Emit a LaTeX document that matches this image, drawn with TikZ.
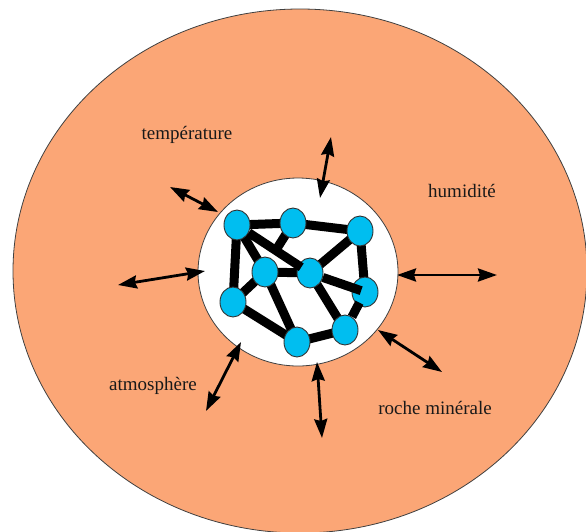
\documentclass[tikz,border=0pt]{standalone}
\usepackage{fontspec}
\setmainfont{Liberation Serif}
\usetikzlibrary{shapes.geometric,arrows.meta,calc}
\definecolor{soil}{RGB}{251,166,118}
\definecolor{cell}{RGB}{0,190,240}
\begin{document}
\begin{tikzpicture}[x=1pt,y=-1pt,
  vertex/.style={ellipse,draw=black!80,line width=0.9pt,fill=cell,minimum width=26pt,minimum height=30pt,inner sep=0pt},
  edge/.style={line width=9pt,black},
  flow/.style={line width=2.8pt,black,{Stealth[length=19pt,width=13pt,inset=2pt]}-{Stealth[length=19pt,width=13pt,inset=2pt]}},
  lbl/.style={font=\fontsize{19}{21}\selectfont,text=black!90,inner sep=0pt}]
\useasboundingbox (0,0) rectangle (586,531);
\node[ellipse,draw=black!75,line width=0.8pt,fill=soil,minimum width=574pt,minimum height=524pt,inner sep=0pt] (soil) at (300,271) {};
\node[ellipse,draw=black!75,line width=0.8pt,fill=white,minimum width=200pt,minimum height=188pt,inner sep=0pt] (pore) at (298,272) {};
% arrows
\coordinate (t1) at (320,198); \coordinate (t2) at (331,137);
\coordinate (u1) at (218,212); \coordinate (u2) at (170,187);
\coordinate (l1) at (205,271); \coordinate (l2) at (118,285);
\coordinate (a1) at (241,342); \coordinate (a2) at (206,411);
\coordinate (b1) at (317,362); \coordinate (b2) at (322,438);
\coordinate (r1) at (378,330); \coordinate (r2) at (442,372);
\coordinate (h1) at (397,275); \coordinate (h2) at (497,275);
\draw[flow] (t1) -- (t2);
\draw[flow] (u1) -- (u2);
\draw[flow] (l1) -- (l2);
\draw[flow] (a1) -- (a2);
\draw[flow] (b1) -- (b2);
\draw[flow] (r1) -- (r2);
\draw[flow] (h1) -- (h2);
% labels
\node[lbl] (temp) at (187,135) {température};
\node[lbl] (hum) at (462,191) {humidité};
\node[lbl] (atm) at (153,386) {atmosphère};
\node[lbl] (roche) at (435,408) {roche minérale};
% network
\coordinate (A) at (237,225);
\coordinate (B) at (293,223);
\coordinate (C) at (360,231);
\coordinate (D) at (265,272);
\coordinate (E) at (310,273);
\coordinate (F) at (365,292);
\coordinate (G) at (233,302);
\coordinate (H) at (297,342);
\coordinate (I) at (345,330);
\coordinate (bx) at ($(A)!0.53!(E)$);
\draw[edge] (A) -- (B);
\draw[edge] (B) -- (C);
\draw[edge] (A) -- (G);
\draw[edge] (A) -- (D);
\draw[edge] (B) -- (bx);
\draw[edge] (C) -- (E);
\draw[edge] (C) -- (F);
\draw[edge] (D) -- (E);
\draw[edge] (D) -- (H);
\draw[edge] (E) -- (I);
\draw[edge] (G) -- (D);
\draw[edge] (G) -- (H);
\draw[edge] (H) -- (I);
\node[vertex] (nA) at (A) {};
\node[vertex] (nB) at (B) {};
\node[vertex] (nC) at (C) {};
\node[vertex] (nD) at (D) {};
\node[vertex] (nE) at (E) {};
\node[vertex] (nF) at (F) {};
\node[vertex] (nG) at (G) {};
\node[vertex] (nH) at (H) {};
\node[vertex] (nI) at (I) {};
% edges drawn over the cells
\draw[edge] (nA) -- ($(A)!0.88!(E)$);
\draw[edge] (nE) -- ($(E)!0.93!(F)$);
\draw[edge] ($(F)!0.28!(I)$) -- (nI);
\end{tikzpicture}
\end{document}
